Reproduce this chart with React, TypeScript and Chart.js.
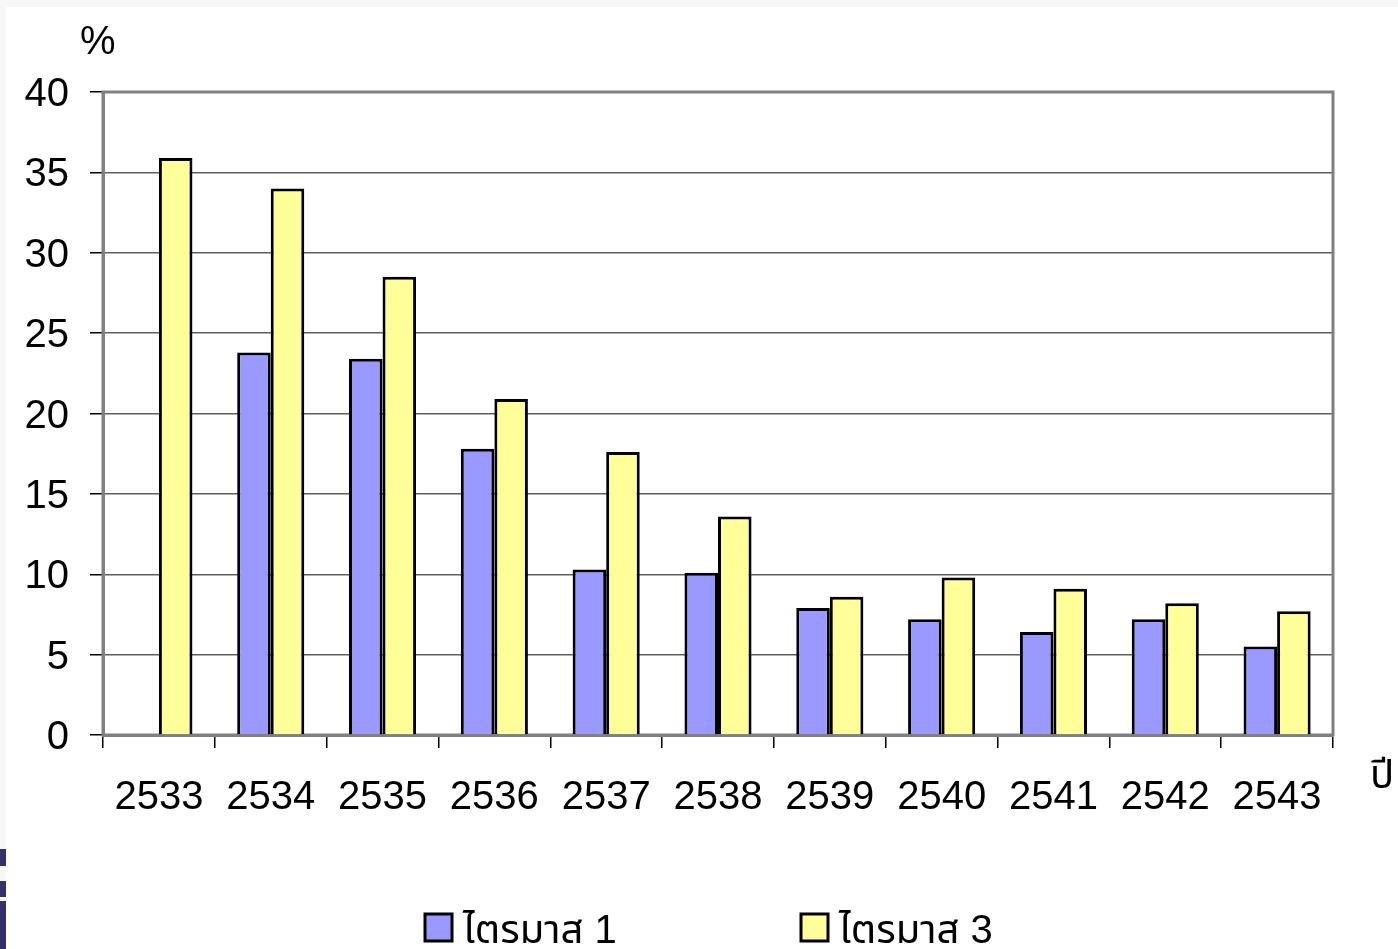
import React, { useEffect, useRef } from "react";
import { Chart, registerables } from "chart.js";

Chart.register(...registerables);

const categories = ["2533", "2534", "2535", "2536", "2537", "2538", "2539", "2540", "2541", "2542", "2543"];
const quarter1 = [null, 23.8, 23.4, 17.8, 10.3, 10.1, 7.9, 7.2, 6.4, 7.2, 5.5];
const quarter3 = [35.9, 34.0, 28.5, 20.9, 17.6, 13.6, 8.6, 9.8, 9.1, 8.2, 7.7];
const seriesNames = ["ไตรมาส 1", "ไตรมาส 3"];
const yTitle = "%";
const xTitle = "ปี";

const FONT = "'Liberation Sans', Arial, 'Noto Sans Thai', 'Noto Sans', sans-serif";

const framePlugin = {
  id: "frame",
  beforeDatasetsDraw(chart: any) {
    const { ctx, chartArea } = chart;
    ctx.save();
    ctx.strokeStyle = "#808080";
    ctx.lineWidth = 3;
    ctx.strokeRect(chartArea.left, chartArea.top, chartArea.right - chartArea.left, chartArea.bottom - chartArea.top);
    ctx.restore();
  },
  afterDraw(chart: any) {
    const { ctx, chartArea } = chart;
    ctx.save();
    ctx.fillStyle = "#000";
    ctx.font = `40px ${FONT}`;
    ctx.textBaseline = "alphabetic";
    ctx.textAlign = "left";
    ctx.fillText(yTitle, chartArea.left - 23, chartArea.top - 38);
    ctx.fillText(xTitle, chartArea.right + 37, chartArea.bottom + 53);

    // legend
    const datasets = chart.data.datasets;
    const box = 27;
    const gapText = 11;
    const stride = 376;
    let x = chartArea.left + 322;
    const baseline = 943;
    datasets.forEach((d: any) => {
      ctx.fillStyle = d.backgroundColor;
      ctx.fillRect(x, baseline - 29, box, box);
      ctx.strokeStyle = "#000";
      ctx.lineWidth = 3;
      ctx.strokeRect(x, baseline - 29, box, box);
      ctx.fillStyle = "#000";
      ctx.fillText(d.label, x + box + gapText, baseline);
      x += stride;
    });
    ctx.restore();
  },
};

export default function App() {
  const ref = useRef<HTMLCanvasElement | null>(null);

  useEffect(() => {
    if (!ref.current) return;
    const chart = new Chart(ref.current, {
      type: "bar",
      data: {
        labels: categories,
        datasets: [
          {
            label: seriesNames[0],
            data: quarter1,
            backgroundColor: "#9999FF",
            borderColor: "#000000",
            borderWidth: 3,
            barPercentage: 1.0,
            categoryPercentage: 0.6,
          },
          {
            label: seriesNames[1],
            data: quarter3,
            backgroundColor: "#FFFF99",
            borderColor: "#000000",
            borderWidth: 3,
            barPercentage: 1.0,
            categoryPercentage: 0.6,
          },
        ],
      },
      options: {
        responsive: false,
        animation: false,
        layout: { padding: { left: 0, top: 92, right: 65, bottom: 114 } },
        plugins: {
          legend: { display: false },
          tooltip: { enabled: false },
          title: { display: false },
        },
        scales: {
          x: {
            grid: {
              display: true,
              offset: true,
              drawOnChartArea: false,
              drawTicks: true,
              tickLength: 13,
              color: "#000",
              lineWidth: 1.5,
            },
            border: { display: true, color: "#808080", width: 3 },
            ticks: {
              color: "#000",
              font: { size: 40, family: FONT },
              padding: 26,
              maxRotation: 0,
              autoSkip: false,
            },
            afterFit(scale: any) {
              scale.height = 100;
            },
          },
          y: {
            min: 0,
            max: 40,
            ticks: {
              stepSize: 5,
              color: "#000",
              font: { size: 40, family: FONT },
              padding: 21,
              labelOffset: 3,
            },
            grid: {
              color: "#606060",
              lineWidth: 1.5,
              tickColor: "#000",
              tickLength: 13,
            },
            border: { display: true, color: "#808080", width: 3 },
            afterFit(scale: any) {
              scale.width = 103;
            },
          },
        },
      },
      plugins: [framePlugin],
    });
    return () => chart.destroy();
  }, []);

  return (
    <div style={{ position: "fixed", left: 0, top: 0, width: 1398, height: 949, background: "#f7f7f7", overflow: "hidden" }}>
      <div style={{ position: "absolute", left: 6, top: 7, right: 0, bottom: 0, background: "#ffffff" }} />
      <div style={{ position: "absolute", left: 0, top: 849, width: 6, height: 17, background: "#35306a" }} />
      <div style={{ position: "absolute", left: 0, top: 881, width: 6, height: 16, background: "#35306a" }} />
      <div style={{ position: "absolute", left: 0, top: 901, width: 6, height: 48, background: "#35306a" }} />
      <canvas ref={ref} width={1398} height={949} style={{ position: "absolute", left: 0, top: 0 }} />
    </div>
  );
}
